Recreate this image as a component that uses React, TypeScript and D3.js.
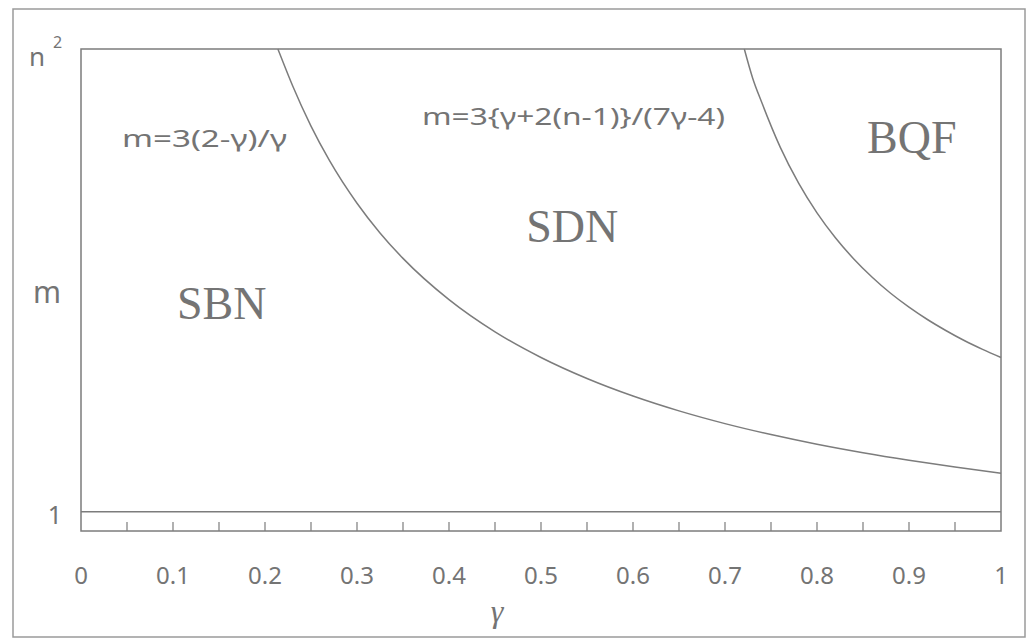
import React from "react";
import * as d3 from "d3";

// Region boundary 1: m = 3(2-γ)/γ  (n = 5 → top = n² = 25)
const gamma1 = [0.214, 0.22, 0.23, 0.25, 0.27, 0.3, 0.325, 0.35, 0.4, 0.45, 0.5, 0.55, 0.6, 0.65, 0.7, 0.75, 0.8, 0.85, 0.9, 0.95, 1.0];
const m1 = [25, 24.27, 23.09, 21, 19.22, 17, 15.46, 14.14, 12, 10.33, 9, 7.91, 7, 6.23, 5.57, 5, 4.5, 4.06, 3.67, 3.32, 3];

// Region boundary 2: m = 3{γ+2(n-1)}/(7γ-4)
const gamma2 = [0.721, 0.73, 0.74, 0.76, 0.78, 0.8, 0.82, 0.84, 0.86, 0.88, 0.9, 0.92, 0.94, 0.96, 0.98, 1.0];
const m2 = [25, 23.5, 22.22, 19.91, 18.04, 16.5, 15.21, 14.11, 13.16, 12.33, 11.61, 10.97, 10.4, 9.88, 9.42, 9];

// Horizontal line m = 1
const baseLineM = 1;

const xTickLabels = ["0", "0.1", "0.2", "0.3", "0.4", "0.5", "0.6", "0.7", "0.8", "0.9", "1"];
const xTickValues = [0, 0.1, 0.2, 0.3, 0.4, 0.5, 0.6, 0.7, 0.8, 0.9, 1];
const minorTicks = [0.05, 0.1, 0.15, 0.2, 0.25, 0.3, 0.35, 0.4, 0.45, 0.5, 0.55, 0.6, 0.65, 0.7, 0.75, 0.8, 0.85, 0.9, 0.95];

const regionLabels = [
  { text: "SBN", g: 0.153, m: 11.0 },
  { text: "SDN", g: 0.534, m: 15.0 },
  { text: "BQF", g: 0.903, m: 19.6 },
];

const W = 1028;
const H = 640;
const plot = { left: 81, right: 1001, top: 49, bottom: 531 };

const GRAY = "#747474";
const LINE = "#7c7c7c";
const SANS = "'Noto Sans', 'Open Sans', sans-serif";
const SERIF = "'Liberation Serif', 'DejaVu Serif', serif";

export default function App() {
  const x = d3.scaleLinear().domain([0, 1]).range([plot.left, plot.right]);
  const y = d3.scaleLinear().domain([0, 25]).range([plot.bottom, plot.top]);

  const line = d3
    .line<[number, number]>()
    .x((d) => x(d[0]))
    .y((d) => y(d[1]))
    .curve(d3.curveMonotoneX);

  const c1 = line(gamma1.map((g, i) => [g, m1[i]] as [number, number])) || "";
  const c2 = line(gamma2.map((g, i) => [g, m2[i]] as [number, number])) || "";

  return (
    <svg
      width={W}
      height={H}
      viewBox={`0 0 ${W} ${H}`}
      style={{ position: "absolute", left: 0, top: 0, background: "#fff" }}
    >
      <rect x={0} y={0} width={W} height={H} fill="#ffffff" />
      {/* outer frame */}
      <rect x={13} y={9} width={1012} height={628} fill="none" stroke="#9a9a9a" strokeWidth={1.5} />
      {/* plot frame */}
      <rect
        x={plot.left}
        y={plot.top}
        width={plot.right - plot.left}
        height={plot.bottom - plot.top}
        fill="none"
        stroke={LINE}
        strokeWidth={1.5}
      />
      {/* m = 1 line */}
      <line x1={x(0)} x2={x(1)} y1={y(baseLineM)} y2={y(baseLineM)} stroke={LINE} strokeWidth={1.5} />
      {/* minor ticks */}
      {minorTicks.map((t) => (
        <line key={t} x1={x(t)} x2={x(t)} y1={plot.bottom} y2={plot.bottom - 9} stroke={LINE} strokeWidth={1.2} />
      ))}
      {/* curves */}
      <path d={c1} fill="none" stroke={LINE} strokeWidth={1.5} />
      <path d={c2} fill="none" stroke={LINE} strokeWidth={1.5} />

      {/* x tick labels */}
      {xTickValues.map((v, i) => (
        <text
          key={v}
          x={x(v)}
          y={574}
          textAnchor="middle"
          dominantBaseline="central"
          fontFamily={SANS}
          fontSize={24}
          fill={GRAY}
        >
          {xTickLabels[i]}
        </text>
      ))}
      {/* x axis title */}
      <text x={497} y={611} textAnchor="middle" dominantBaseline="central" fontFamily={SERIF} fontStyle="italic" fontSize={32} fill={GRAY}>
        γ
      </text>

      {/* y labels */}
      <text x={29} y={66} fontFamily={SANS} fontSize={26} fill={GRAY}>
        n
      </text>
      <text x={53} y={48} fontFamily={SANS} fontSize={16} fill={GRAY}>
        2
      </text>
      <text x={47} y={291} textAnchor="middle" dominantBaseline="central" fontFamily={SANS} fontSize={30} fill={GRAY}>
        m
      </text>
      <text x={55} y={514} textAnchor="middle" dominantBaseline="central" fontFamily={SANS} fontSize={25} fill={GRAY}>
        1
      </text>

      {/* formulas */}
      <text x={122} y={137} dominantBaseline="central" fontFamily={SANS} fontSize={24} fill={GRAY} textLength={165} lengthAdjust="spacingAndGlyphs">
        m=3(2-γ)/γ
      </text>
      <text x={422} y={115} dominantBaseline="central" fontFamily={SANS} fontSize={24} fill={GRAY} textLength={303} lengthAdjust="spacingAndGlyphs">
        {"m=3{γ+2(n-1)}/(7γ-4)"}
      </text>

      {/* region labels */}
      {regionLabels.map((r) => (
        <text key={r.text} x={x(r.g)} y={y(r.m)} textAnchor="middle" fontFamily={SERIF} fontSize={46} fill={GRAY}>
          {r.text}
        </text>
      ))}
    </svg>
  );
}
